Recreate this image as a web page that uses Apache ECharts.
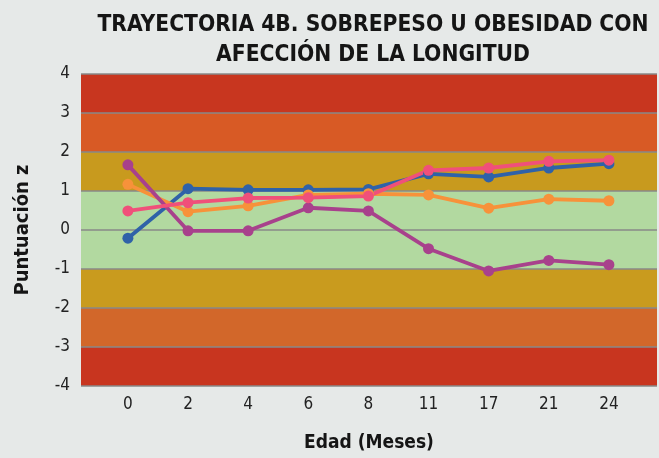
<!DOCTYPE html>
<html>
<head>
<meta charset="utf-8">
<script src="https://cdn.jsdelivr.net/npm/echarts@6/dist/echarts.min.js"></script>
<style>
  html, body { margin: 0; padding: 0; background: #e6e9e8; }
  #chart { width: 659px; height: 458px; }
</style>
</head>
<body>
<div id="chart"></div>
<script>
const months = ['0', '2', '4', '6', '8', '11', '17', '21', '24']
const blueZ = [-0.21, 1.06, 1.03, 1.03, 1.04, 1.44, 1.36, 1.59, 1.70]
const orangeZ = [1.17, 0.47, 0.62, 0.90, 0.93, 0.90, 0.56, 0.79, 0.75]
const purpleZ = [1.67, -0.02, -0.02, 0.57, 0.49, -0.48, -1.05, -0.78, -0.89]
const pinkZ = [0.49, 0.70, 0.82, 0.83, 0.87, 1.53, 1.59, 1.76, 1.79]
const bandEdges = [4, 3, 2, 1, -1, -2, -3, -4]

const FONT = "'DejaVu Sans Condensed', 'DejaVu Sans', sans-serif"
const BAND_COLORS = ['#c8361f', '#d85a25', '#c89a1e', '#b2d9a0', '#c99b1e', '#d2672a', '#c8351f']

const toPoints = arr => arr.map((v, i) => [i, v])

const bands = []
for (let i = 0; i < bandEdges.length - 1; i++) {
  bands.push([
    { yAxis: bandEdges[i], itemStyle: { color: BAND_COLORS[i] } },
    { yAxis: bandEdges[i + 1] },
  ])
}

function lineSeries(name, data, color) {
  return {
    name,
    type: 'line',
    z: 3,
    data: toPoints(data),
    symbol: 'circle',
    symbolSize: 11,
    lineStyle: { color, width: 3.8 },
    itemStyle: { color },
    silent: true,
  }
}

const chart = echarts.init(document.getElementById('chart'))
chart.setOption({
  backgroundColor: '#e6e9e8',
  animation: false,
  title: {
    text: 'TRAYECTORIA 4B. SOBREPESO U OBESIDAD CON\nAFECCIÓN DE LA LONGITUD',
    left: 368,
    textAlign: 'center',
    top: 5,
    textStyle: {
      fontFamily: FONT,
      fontWeight: 'bold',
      fontSize: 22.6,
      lineHeight: 30,
      color: '#151515',
    },
  },
  grid: { left: 81, right: 2, top: 74, bottom: 69 },
  xAxis: {
    type: 'value',
    min: -0.78,
    max: 8.8,
    name: 'Edad (Meses)',
    nameLocation: 'middle',
    nameGap: 48,
    nameTextStyle: { fontFamily: FONT, fontWeight: 'bold', fontSize: 19, color: '#151515' },
    axisLine: { show: false },
    axisTick: { show: false },
    splitLine: { show: false },
    axisLabel: {
      customValues: months.map((m, i) => i),
      formatter: v => months[v],
      fontFamily: FONT,
      fontSize: 17,
      color: '#222',
      margin: 10,
    },
  },
  yAxis: {
    type: 'value',
    min: -4,
    max: 4,
    interval: 1,
    z: 2,
    name: 'Puntuación z',
    nameLocation: 'middle',
    nameGap: 48,
    nameTextStyle: { fontFamily: FONT, fontWeight: 'bold', fontSize: 20, color: '#151515' },
    axisLine: { show: false },
    axisTick: { show: false },
    splitLine: { lineStyle: { color: '#888', width: 1.5 } },
    axisLabel: { fontFamily: FONT, fontSize: 17, color: '#222', margin: 11 },
  },
  series: [
    {
      type: 'line',
      z: 1,
      data: [],
      silent: true,
      markArea: { silent: true, data: bands },
    },
    lineSeries('Azul', blueZ, '#2f62a8'),
    lineSeries('Naranja', orangeZ, '#f7923a'),
    lineSeries('Morado', purpleZ, '#a8418c'),
    lineSeries('Rosa', pinkZ, '#f0507a'),
  ],
})
</script>
</body>
</html>
